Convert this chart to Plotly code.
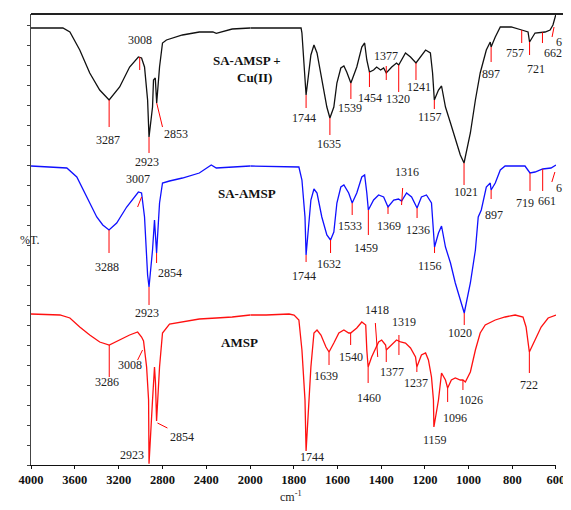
import numpy as np
import plotly.graph_objects as go

# ---------------- data (wavenumber cm-1, offset %T in arbitrary units) ----------------
cu_wn = [4000, 3709, 3645, 3555, 3464, 3373, 3287, 3191, 3100, 3020, 2991, 2964, 2936, 2923, 2891,
         2882, 2866, 2853, 2827, 2800, 2764, 2618, 2464, 2340, 2309, 2164, 2000,
         1767, 1763, 1754, 1744, 1722, 1708, 1694, 1672, 1649, 1635, 1617, 1603, 1585, 1571, 1558,
         1539, 1512, 1489, 1476, 1466, 1454, 1435, 1421, 1403, 1389, 1377, 1352, 1330, 1320, 1289,
         1266, 1241, 1220, 1197, 1175, 1165, 1157, 1138, 1124, 1106, 1083, 1061, 1038, 1021, 992,
         969, 947, 919, 901, 897, 878, 855, 805, 757, 728, 721, 696, 650, 627, 614, 600]
cu_t = [109.25, 109.25, 108.25, 103.75, 98, 93.75, 91.25, 94.5, 99.5, 102, 101.75, 99.5, 91.25, 82, 89.5,
        96.25, 96.75, 90.5, 99.5, 105.5, 106.25, 107.5, 108.25, 108.25, 107.9, 109, 109.25,
        109.25, 108, 99.5, 92.5, 102.5, 105, 103, 96.25, 89.5, 86.75, 89.5, 95.5, 99.25, 99.75, 98.25,
        95.5, 99.5, 104.5, 105.5, 101.25, 98.25, 98.75, 99.5, 98.75, 99.25, 98, 99.5, 100.5, 100, 103,
        102, 100.5, 102, 103.75, 103, 98, 91.25, 93.75, 94.75, 89.5, 85.5, 81.25, 77.5, 75.5, 83,
        91.25, 98, 103.75, 105.75, 104.5, 107, 109.5, 109.5, 108.75, 108.25, 105.75, 108, 108.25, 108.75, 110, 112.75]

sa_wn = [4000, 3800, 3673, 3582, 3491, 3400, 3345, 3288, 3218, 3127, 3020, 2991, 2964, 2936, 2923,
         2891, 2873, 2854, 2827, 2800, 2736, 2618, 2464, 2373, 2355, 2309, 2164, 2000,
         1777, 1763, 1749, 1744, 1722, 1708, 1694, 1672, 1649, 1632, 1617, 1603, 1585, 1571, 1549,
         1533, 1512, 1489, 1476, 1466, 1459, 1435, 1412, 1389, 1369, 1343, 1321, 1307, 1284, 1261,
         1236, 1216, 1193, 1170, 1161, 1156, 1138, 1124, 1106, 1083, 1061, 1038, 1020, 992, 969,
         956, 942, 919, 901, 897, 878, 855, 833, 742, 719, 696, 668, 661, 623, 616, 600]
sa_t = [74.75, 74.5, 74.25, 72, 67, 62, 60, 58.75, 60.5, 64.5, 68.25, 68, 62, 47.5, 44.5,
        53.75, 61.25, 53, 65.5, 70.5, 71, 71.75, 73, 74.5, 75, 74.25, 74.5, 74.75,
        74.5, 71.25, 62, 52.5, 66.25, 69, 68, 62, 57.5, 56.25, 58.25, 65.5, 69.5, 70, 68,
        65.5, 68, 72, 72.5, 68, 63.75, 66.25, 67.5, 67, 64.5, 66.25, 66.5, 66, 68, 67,
        64.25, 67, 67.5, 65.5, 59.5, 54.5, 58, 59.75, 54.5, 50.5, 45.5, 41.25, 38, 45.5, 53.75,
        62, 63.75, 69.5, 70.5, 68.75, 70.5, 73.75, 74.75, 74.75, 73, 73.25, 73.75, 74, 74.25, 74.5, 75]

am_wn = [4000, 3736, 3645, 3555, 3464, 3373, 3286, 3191, 3100, 3027, 2991, 2973, 2945, 2927, 2923,
         2891, 2873, 2864, 2854, 2827, 2800, 2736, 2618, 2464, 2309, 2164, 2000,
         1927, 1822, 1799, 1777, 1763, 1749, 1744, 1722, 1708, 1694, 1676, 1653, 1639, 1617, 1594,
         1571, 1549, 1540, 1512, 1489, 1471, 1466, 1460, 1444, 1425, 1412, 1398, 1380, 1377, 1352,
         1330, 1311, 1289, 1266, 1243, 1237, 1216, 1197, 1184, 1170, 1161, 1159, 1138, 1124, 1106,
         1096, 1079, 1061, 1038, 1026, 1015, 992, 969, 947, 924, 878, 833, 787, 751, 737, 722,
         696, 668, 636, 600]
am_t = [37.75, 37.5, 36.75, 34.5, 32.5, 30.75, 30, 31.25, 32.5, 33.25, 32, 31, 24.5, 16.25, 0.3,
        16.25, 24.5, 20.5, 11, 24.5, 33, 35.25, 35.75, 36.5, 36.75, 37, 37.5,
        37.5, 37.75, 37.5, 36.25, 28.75, 16.25, 3.5, 24.5, 33, 33.75, 32.5, 29.5, 28.25, 30.5, 33,
        33.75, 33, 33, 34.25, 35.75, 35, 28.75, 24.5, 27, 29.5, 30.75, 31.25, 30, 28.75, 30,
        31.25, 30.75, 30.5, 29.25, 27, 24.5, 27.5, 28, 26.25, 22, 16.25, 9.5, 16.25, 23, 21.25,
        19.25, 21.25, 21.75, 21.25, 21.25, 20.75, 23.25, 28.75, 33, 35, 36.25, 37, 37.5, 37, 34.5, 28.25,
        31.25, 34.5, 36.75, 37.5]

series = [
    ("SA-AMSP + Cu(II)", cu_wn, cu_t, "#111111"),
    ("SA-AMSP", sa_wn, sa_t, "#1010ff"),
    ("AMSP", am_wn, am_t, "#ff1010"),
]

left_ticks = [4000, 3600, 3200, 2800, 2400]
right_ticks = [2000, 1800, 1600, 1400, 1200, 1000, 800, 600]

# peak labels: (text, text_wn, text_t, anchor, line_wn0, line_t0 (None = on curve), line_wn1, line_t1)
cu_labels = [
    ("3287", 3300, 81.25, "center", 3287, None, 3287, 84.5),
    ("3008", 3009, 106.25, "center", 3008, 102, 3008, 98.75),
    ("2923", 2945, 75.75, "center", 2923, None, 2923, 78),
    ("2853", 2673, 82.75, "center", 2853, None, 2800, 84.5),
    ("1744", 1754, 86.75, "center", 1744, None, 1744, 89.25),
    ("1635", 1640, 80.25, "center", 1635, None, 1635, 82.5),
    ("1539", 1544, 89.25, "center", 1539, None, 1539, 91.5),
    ("1454", 1453, 91.75, "center", 1454, None, 1454, 94.5),
    ("1377", 1376, 102.25, "center", 1377, 99.75, 1377, 96.25),
    ("1320", 1321, 91.5, "center", 1320, None, 1320, 93.25),
    ("1241", 1229, 94.5, "center", 1241, None, 1241, 96.25),
    ("1157", 1175, 87, "center", 1157, None, 1157, 89),
    ("1021", 1010, 68.25, "center", 1021, None, 1021, 70),
    ("897", 897, 97.75, "center", 897, None, 897, 100.75),
    ("757", 787, 103, "center", 757, None, 757, 105.5),
    ("721", 691, 99, "center", 721, None, 721, 102.5),
    ("662", 614, 103, "center", 662, None, 662, 105.5),
    ("616", 600, 105.75, "left", 609, 109.5, 618, 107),
]
sa_labels = [
    ("3007", 3027, 71.5, "center", 2991, 67, 3027, 64.5),
    ("3288", 3309, 49.5, "center", 3288, None, 3288, 53),
    ("2854", 2736, 48, "center", 2854, None, 2854, 50.5),
    ("2923", 2945, 38, "center", 2923, None, 2923, 40),
    ("1744", 1754, 47.25, "center", 1744, None, 1744, 50.75),
    ("1632", 1640, 50.25, "center", 1632, None, 1632, 53),
    ("1533", 1544, 59.75, "center", 1533, None, 1533, 62.5),
    ("1459", 1471, 54.25, "center", 1459, None, 1459, 57.5),
    ("1369", 1366, 59.75, "center", 1369, None, 1369, 62.75),
    ("1316", 1284, 73.25, "center", 1302, 69.25, 1307, 65),
    ("1236", 1234, 58.75, "center", 1236, None, 1236, 61.75),
    ("1156", 1175, 49.75, "center", 1156, None, 1156, 53),
    ("1020", 1038, 33, "center", 1020, None, 1020, 35),
    ("897", 883, 62.5, "center", 897, None, 897, 66.5),
    ("719", 742, 65.5, "center", 719, None, 719, 68.5),
    ("661", 641, 66, "center", 661, None, 661, 68.5),
    ("616", 600, 69.25, "left", 605, 73.25, 619, 70.75),
]
am_labels = [
    ("3286", 3309, 20.75, "center", 3286, None, 3286, 22),
    ("3008", 3100, 25, "center", 2982, 28.75, 3027, 26.25),
    ("2923", 3082, 2.5, "center", None, None, None, None),
    ("2854", 2618, 7, "center", 2846, 10.5, 2755, 9.25),
    ("1744", 1717, 2, "center", None, None, None, None),
    ("1639", 1653, 22.25, "center", 1639, None, 1639, 25),
    ("1540", 1539, 27, "center", 1540, None, 1540, 30),
    ("1460", 1457, 16.75, "center", 1460, None, 1460, 20.5),
    ("1418", 1421, 38.75, "center", 1427, 35.5, 1416, 27),
    ("1319", 1298, 35.75, "center", 1319, 32.5, 1319, 27.5),
    ("1377", 1352, 23.25, "center", 1377, None, 1377, 25.75),
    ("1237", 1243, 20.5, "center", 1237, None, 1237, 23.25),
    ("1159", 1152, 6.25, "center", None, None, None, None),
    ("1096", 1061, 11.75, "center", 1096, None, 1096, 15.75),
    ("1026", 988, 16.25, "center", 1026, None, 1026, 18.75),
    ("722", 724, 20, "center", 722, None, 722, 23),
]
all_labels = [(cu_wn, cu_t, cu_labels), (sa_wn, sa_t, sa_labels), (am_wn, am_t, am_labels)]

# ---------------- figure ----------------
FONT = "Liberation Serif, Times New Roman, serif"
PW = 527.0  # plot width in px
split = 220 / PW

fig = go.Figure()
for name, wn, t, col in series:
    wn_a = np.array(wn, dtype=float)
    t_a = np.array(t, dtype=float)
    lm = wn_a >= 2000
    rm = wn_a <= 2000
    fig.add_trace(go.Scatter(x=wn_a[lm], y=t_a[lm], mode="lines", line=dict(color=col, width=1.3),
                             xaxis="x", yaxis="y", showlegend=False, hoverinfo="skip"))
    fig.add_trace(go.Scatter(x=wn_a[rm], y=t_a[rm], mode="lines", line=dict(color=col, width=1.3),
                             xaxis="x2", yaxis="y", showlegend=False, hoverinfo="skip"))


def axref(w):
    return "x" if w > 2000 else "x2"


annotations = []
shapes = []
for wn, t, labels in all_labels:
    wr = np.array(wn[::-1], dtype=float)
    tr = np.array(t[::-1], dtype=float)
    for text, tx, ty, anc, lx0, ly0, lx1, ly1 in labels:
        ann = dict(text=text, x=tx, y=ty, xref=axref(tx), yref="y", showarrow=False,
                   xanchor=anc, yanchor="middle", font=dict(family=FONT, size=12, color="#222"))
        if anc == "left":
            ann["xshift"] = -2
        annotations.append(ann)
        if lx0 is not None:
            y0 = ly0 if ly0 is not None else float(np.interp(lx0, wr, tr))
            ref = axref(lx0)
            shapes.append(dict(type="line", xref=ref, yref="y", x0=lx0, y0=y0, x1=lx1, y1=ly1,
                               line=dict(color="#ff0000", width=1)))

# sample names and axis titles
annotations += [
    dict(text="<b>SA-AMSP +</b>", x=(248 - 31) / PW, y=101.25, xref="paper", yref="y", showarrow=False,
         font=dict(family=FONT, size=13, color="#111")),
    dict(text="<b>Cu(II)</b>", x=(255 - 31) / PW, y=97, xref="paper", yref="y", showarrow=False,
         font=dict(family=FONT, size=13, color="#111")),
    dict(text="<b>SA-AMSP</b>", x=(248 - 31) / PW, y=68, xref="paper", yref="y", showarrow=False,
         font=dict(family=FONT, size=13, color="#111")),
    dict(text="<b>AMSP</b>", x=(240 - 31) / PW, y=30.75, xref="paper", yref="y", showarrow=False,
         font=dict(family=FONT, size=13, color="#111")),
    dict(text="%T.", x=(18 - 31) / PW, y=0.499, xref="paper", yref="paper", showarrow=False,
         font=dict(family=FONT, size=12, color="#222")),
    dict(text="cm<sup>-1</sup>", x=(292 - 31) / PW, y=(465 - 506) / 451, xref="paper", yref="paper",
         showarrow=False, font=dict(family=FONT, size=12, color="#222")),
]

# heavy top border line
shapes.append(dict(type="line", xref="paper", yref="paper", x0=0, x1=(571 - 31) / PW, y0=1, y1=1,
                   line=dict(color="#222", width=2.2)))

tickfont = dict(family=FONT, size=12.5, color="#111")
# page body has an 8px margin, so the figure is sized to fit inside the window
fig.update_layout(
    width=563, height=502,
    margin=dict(l=23, r=13, t=6, b=45),
    paper_bgcolor="white", plot_bgcolor="white",
    xaxis=dict(domain=[0, split], range=[4000, 2000], tickvals=left_ticks,
               ticktext=["<b>%d</b>" % v for v in left_ticks], showgrid=False, zeroline=False,
               showline=True, linecolor="#111", linewidth=1, ticks="outside", ticklen=3,
               tickcolor="#111", tickfont=tickfont, anchor="y"),
    xaxis2=dict(domain=[split, 1], range=[2000, 600], tickvals=right_ticks,
                ticktext=["<b>%d</b>" % v for v in right_ticks], showgrid=False, zeroline=False,
                showline=True, linecolor="#111", linewidth=1, ticks="outside", ticklen=3,
                tickcolor="#111", tickfont=tickfont, anchor="y"),
    yaxis=dict(range=[0, 112.75], dtick=5, tick0=0, showticklabels=False, showgrid=False,
               zeroline=False, showline=True, linecolor="#444", linewidth=1, ticks="outside",
               ticklen=3, tickcolor="#444", anchor="x"),
    annotations=annotations,
    shapes=shapes,
    showlegend=False,
)

fig.write_html("out.html")
